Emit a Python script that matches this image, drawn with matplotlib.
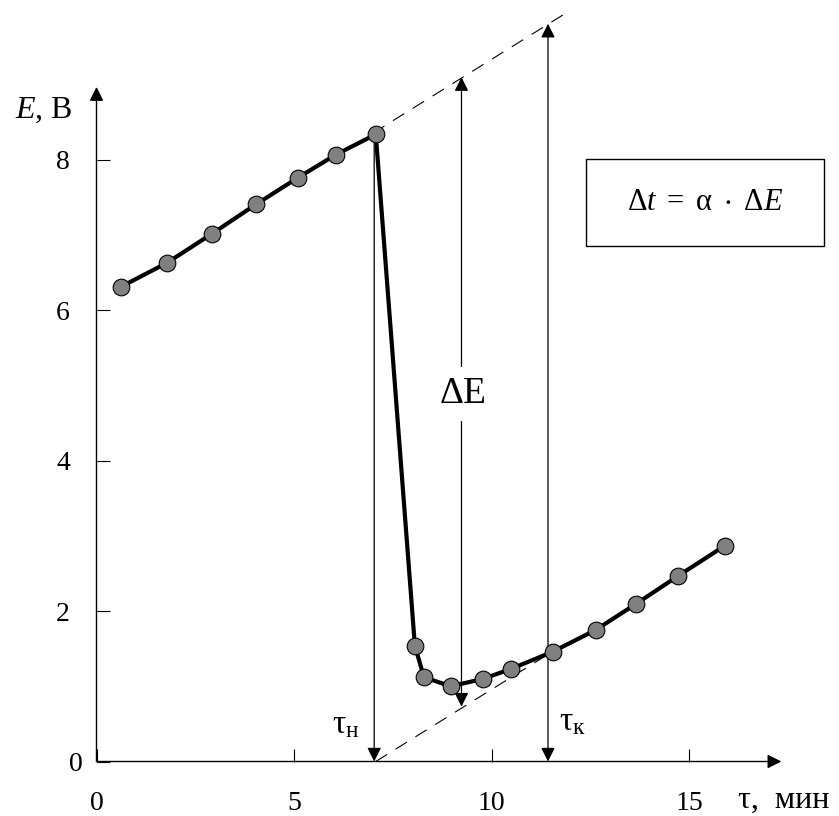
import matplotlib
matplotlib.use('Agg')
import matplotlib.pyplot as plt
from matplotlib.patches import Rectangle

# measured curve E(tau)
tau = [0.61, 1.78, 2.93, 4.04, 5.09, 6.06, 7.07, 8.06, 8.29, 8.97,
       9.79, 10.49, 11.55, 12.64, 13.67, 14.73, 15.91]
E = [6.31, 6.63, 7.02, 7.41, 7.76, 8.07, 8.34, 1.54, 1.12, 1.00,
     1.10, 1.23, 1.46, 1.75, 2.10, 2.47, 2.87]

# extrapolation lines (before / after the jump)
upper_x = [6.0, 12.0]
upper_y = [8.03, 9.99]
lower_x = [7.07, 11.6]
lower_y = [0.0, 1.48]

tau_n = 7.03
tau_k = 11.43
tau_k_top = 9.81
dE_x = 9.24
dE_low, dE_high = 0.73, 9.10

xticks = [0, 5, 10, 15]
yticks = [0, 2, 4, 6, 8]

plt.rcParams['font.family'] = ['Liberation Serif', 'DejaVu Serif']
plt.rcParams['mathtext.fontset'] = 'custom'
plt.rcParams['mathtext.rm'] = 'Liberation Serif'
plt.rcParams['mathtext.it'] = 'Liberation Serif:italic'
plt.rcParams['mathtext.default'] = 'regular'

fig = plt.figure(figsize=(8.39, 8.16), dpi=100)
ax = fig.add_axes([0, 0, 1, 1])
# pixel mapping: x0 at 96.5 px, 39.5 px/unit ; y0 at 761.5 px from top, 75.2 px/unit
ax.set_xlim(-96.5 / 39.5, (839 - 96.5) / 39.5)
ax.set_ylim(-(816 - 761.5) / 75.2, 761.5 / 75.2)

for s in ax.spines.values():
    s.set_visible(False)
ax.spines['left'].set_position(('data', 0))
ax.spines['bottom'].set_position(('data', 0))

ax.set_xticks(xticks)
ax.set_yticks(yticks)
ax.tick_params(axis='both', direction='in', length=9.4, width=0.8, labelsize=20)
ax.tick_params(axis='x', pad=21)
ax.tick_params(axis='y', pad=19)
ax.yaxis.get_major_ticks()[0].set_pad(10)

head = dict(mutation_scale=21, lw=1.0, color='black', shrinkA=0, shrinkB=0)

# axes with arrows
ax.annotate('', xy=(0, 8.97), xytext=(0, 0),
            arrowprops=dict(arrowstyle='-|>,head_length=0.4,head_width=0.2', **head))
ax.annotate('', xy=(17.34, 0), xytext=(0, 0),
            arrowprops=dict(arrowstyle='-|>,head_length=0.4,head_width=0.2', **head))

# dashed construction lines
ax.plot(upper_x, upper_y, color='black', lw=0.8, dashes=(12, 9), zorder=2)
ax.plot(lower_x, lower_y, color='black', lw=0.8, dashes=(12, 9), zorder=2)

thin = dict(mutation_scale=21, lw=0.9, color='black', shrinkA=0, shrinkB=0)
ax.annotate('', xy=(tau_n, 0), xytext=(tau_n, E[6]),
            arrowprops=dict(arrowstyle='-|>,head_length=0.4,head_width=0.2', **thin))
ax.annotate('', xy=(tau_k, 0), xytext=(tau_k, tau_k_top),
            arrowprops=dict(arrowstyle='<|-|>,head_length=0.4,head_width=0.2', **thin))
ax.annotate('', xy=(dE_x, dE_low), xytext=(dE_x, dE_high),
            arrowprops=dict(arrowstyle='<|-|>,head_length=0.4,head_width=0.2', **thin))

# curve
ax.plot(tau, E, color='black', lw=3, zorder=4)
ax.plot(tau, E, 'o', ms=12, mfc='#808080', mec='black', mew=0.8, zorder=5)

# labels
ax.text(dE_x + 0.05, 4.89, 'ΔE', fontsize=27, ha='center', va='center',
        bbox=dict(facecolor='white', edgecolor='none', pad=7), zorder=3)
ax.text(6.32, 0.49, r'$τ_н$', fontsize=24, ha='center', va='center')
ax.text(12.04, 0.53, r'$τ_к$', fontsize=24, ha='center', va='center')
ax.text(-0.6, 8.66, r'$\mathit{E}$, В', fontsize=23, ha='right', va='center')
ax.text(16.24, -0.51, 'τ,  мин', fontsize=23, ha='left', va='center')

ax.add_patch(Rectangle((12.40, 6.85), 6.03, 1.16, fill=False, lw=1.0, ec='black'))
ax.text(15.42, 7.43, r'$Δ\mathit{t}\ =\ α\ \cdot\ Δ\mathit{E}$', fontsize=22,
        ha='center', va='center')

fig.savefig('out.png', dpi=100)
